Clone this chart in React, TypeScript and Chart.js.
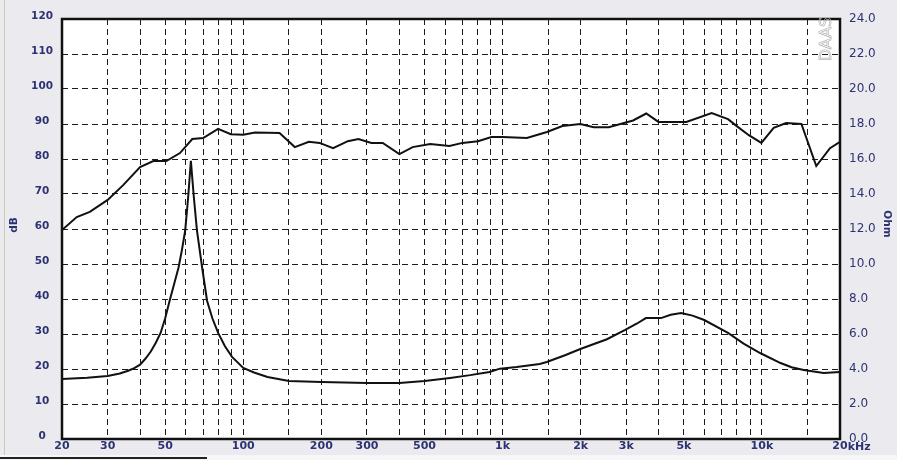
import { useEffect, useRef } from "react";
import { Chart, registerables } from "chart.js";
Chart.register(...registerables);

// frequency response (dB, left axis)
const splFreq = [
  20, 22.8, 25.6, 30, 34.5, 40, 45, 50.5, 57, 63.6, 70, 80, 89.5, 100, 111, 138,
  158, 179, 197, 222, 253, 278, 312, 345, 400, 450, 526, 624, 700, 804, 906,
  1000, 1240, 1483, 1700, 1994, 2245, 2565, 3185, 3580, 3990, 5110, 6400, 7400,
  8000, 8900, 9950, 11100, 12400, 14200, 16200, 18300, 20000,
];
const splDb = [
  59.7, 63.4, 64.9, 68.3, 72.6, 77.7, 79.4, 79.4, 81.7, 85.7, 86, 88.6, 87.1,
  86.9, 87.6, 87.4, 83.4, 84.9, 84.6, 83.1, 85.1, 85.7, 84.6, 84.6, 81.4, 83.4,
  84.3, 83.7, 84.6, 85.1, 86.3, 86.3, 86, 87.7, 89.4, 90, 89.1, 89.1, 91, 93,
  90.6, 90.6, 93.1, 91.4, 89.4, 86.8, 84.6, 88.9, 90.3, 90, 78, 83.1, 84.9,
];

// impedance (Ohm, right axis)
const impFreq = [
  20, 25, 30, 33.4, 36, 38, 40, 42, 44, 46, 48, 50, 52, 54, 56.3, 58, 59.7,
  61.3, 62.8, 64.5, 66.3, 69.4, 72.5, 76, 80, 85, 90.5, 100, 110, 124, 150, 200,
  300, 400, 500, 627, 750, 890, 977, 1133, 1390, 1480, 1750, 1994, 2525, 2970,
  3300, 3570, 4080, 4450, 4880, 5400, 5990, 7400, 8500, 9880, 11800, 13000,
  14500, 17300, 20000,
];
const impOhm = [
  3.43, 3.5, 3.6, 3.74, 3.9, 4.05, 4.25, 4.6, 5.0, 5.5, 6.06, 6.9, 7.9, 8.8,
  9.8, 10.8, 11.9, 13.8, 15.9, 13.8, 11.9, 9.8, 7.9, 6.9, 6.06, 5.3, 4.69, 4.06,
  3.8, 3.54, 3.31, 3.26, 3.2, 3.2, 3.31, 3.49, 3.65, 3.83, 4.02, 4.11, 4.29,
  4.4, 4.8, 5.14, 5.7, 6.23, 6.6, 6.91, 6.91, 7.1, 7.2, 7.05, 6.8, 6.06, 5.45,
  4.9, 4.34, 4.1, 3.94, 3.77, 3.83,
];

const gridFreqs = [
  20, 30, 40, 50, 60, 70, 80, 90, 100, 150, 200, 300, 400, 500, 600, 700, 800,
  900, 1000, 1500, 2000, 3000, 4000, 5000, 6000, 7000, 8000, 9000, 10000, 15000,
  20000,
];
const labelFreqs = [20, 30, 50, 100, 200, 300, 500, 1000, 2000, 3000, 5000, 10000, 20000];
const labelTexts = ["20", "30", "50", "100", "200", "300", "500", "1k", "2k", "3k", "5k", "10k", "20"];

const NAVY = "#2d3272";
const GRID = "#1c1c1c";

const framePlugin = {
  id: "frame",
  beforeDraw: (chart: any) => {
    const { ctx, chartArea: a } = chart;
    ctx.save();
    ctx.fillStyle = "#ffffff";
    ctx.fillRect(a.left, a.top, a.right - a.left, a.bottom - a.top);
    ctx.restore();
  },
  afterDraw: (chart: any) => {
    const { ctx, chartArea: a } = chart;
    ctx.save();
    ctx.strokeStyle = "#111";
    ctx.lineWidth = 2.5;
    ctx.strokeRect(a.left, a.top, a.right - a.left, a.bottom - a.top);

    ctx.fillStyle = NAVY;
    ctx.font = "bold 11px 'DejaVu Sans'";
    ctx.textBaseline = "middle";
    // "kHz" after the last "20"
    const w = ctx.measureText("20").width;
    ctx.textAlign = "left";
    ctx.fillText("kHz", a.right + w / 2, a.bottom + 8);

    ctx.font = "bold 10.5px 'DejaVu Sans'";
    ctx.textAlign = "center";
    ctx.save();
    ctx.translate(14, 225);
    ctx.rotate(-Math.PI / 2);
    ctx.fillText("dB", 0, 0);
    ctx.restore();
    ctx.save();
    ctx.translate(887, 224);
    ctx.rotate(Math.PI / 2);
    ctx.fillText("Ohm", 0, 0);
    ctx.restore();

    // watermark
    ctx.save();
    ctx.translate(827, 39);
    ctx.rotate(-Math.PI / 2);
    ctx.font = "16px 'DejaVu Sans'";
    ctx.strokeStyle = "#b4b4b4";
    ctx.lineWidth = 0.7;
    ctx.strokeText("DAAS", 0, 0);
    ctx.restore();
    ctx.restore();
  },
};

const ResponseChart = () => {
  const canvasRef = useRef<HTMLCanvasElement>(null);

  useEffect(() => {
    if (!canvasRef.current) return;
    const chart = new Chart(canvasRef.current, {
      type: "line",
      data: {
        datasets: [
          {
            label: "dB",
            yAxisID: "y",
            data: splFreq.map((f, i) => ({ x: f, y: splDb[i] })),
            borderColor: "#111",
            borderWidth: 2,
            pointRadius: 0,
            tension: 0,
          },
          {
            label: "Ohm",
            yAxisID: "y1",
            data: impFreq.map((f, i) => ({ x: f, y: impOhm[i] })),
            borderColor: "#111",
            borderWidth: 2,
            pointRadius: 0,
            tension: 0,
          },
        ],
      },
      options: {
        animation: false,
        responsive: false,
        maintainAspectRatio: false,
        layout: { padding: { top: 19, left: 0, right: 0, bottom: 0 } },
        plugins: { legend: { display: false }, tooltip: { enabled: false } },
        scales: {
          x: {
            type: "logarithmic",
            min: 20,
            max: 20000,
            afterBuildTicks: (scale: any) => {
              scale.ticks = gridFreqs.map((v) => ({ value: v }));
            },
            afterFit: (scale: any) => {
              scale.height = 21;
            },
            grid: { color: GRID, lineWidth: 1, drawTicks: false },
            border: { display: false, dash: [6, 4] },
            ticks: {
              autoSkip: false,
              maxRotation: 0,
              padding: 1,
              color: NAVY,
              font: { family: "DejaVu Sans", weight: "bold", size: 11 },
              callback: (v: any) => {
                const i = labelFreqs.indexOf(Number(v));
                return i >= 0 ? labelTexts[i] : "";
              },
            },
          },
          y: {
            position: "left",
            min: 0,
            max: 120,
            afterFit: (scale: any) => {
              scale.width = 62;
            },
            grid: { color: GRID, lineWidth: 1, drawTicks: false },
            border: { display: false, dash: [6, 4] },
            ticks: {
              stepSize: 10,
              padding: 9,
              crossAlign: "center",
              labelOffset: -3,
              color: NAVY,
              font: { family: "DejaVu Sans", weight: "bold", size: 10.5 },
            },
          },
          y1: {
            position: "right",
            min: 0,
            max: 24,
            afterFit: (scale: any) => {
              scale.width = 57;
            },
            grid: { drawOnChartArea: false, drawTicks: false },
            border: { display: false },
            ticks: {
              stepSize: 2,
              padding: 9,
              color: NAVY,
              font: { family: "DejaVu Sans", size: 12 },
              callback: (v: any) => Number(v).toFixed(1),
            },
          },
        },
      },
      plugins: [framePlugin],
    });

    return () => {
      chart.destroy();
    };
  }, []);

  return (
    <div
      style={{
        position: "fixed",
        left: 0,
        top: 0,
        width: 897,
        height: 460,
        background: "#ebebef",
        overflow: "hidden",
      }}
    >
      <div style={{ position: "absolute", left: 4, top: 0, width: 1, height: 455, background: "#cfc8b8" }} />
      <div style={{ position: "absolute", left: 0, top: 455, width: 897, height: 5, background: "#f6f6f8" }} />
      <div style={{ position: "absolute", left: 0, top: 457, width: 207, height: 2, background: "#222" }} />
      <canvas ref={canvasRef} width={897} height={460} style={{ position: "absolute", left: 0, top: 0 }} />
    </div>
  );
};

export default function App() {
  return <ResponseChart />;
}
